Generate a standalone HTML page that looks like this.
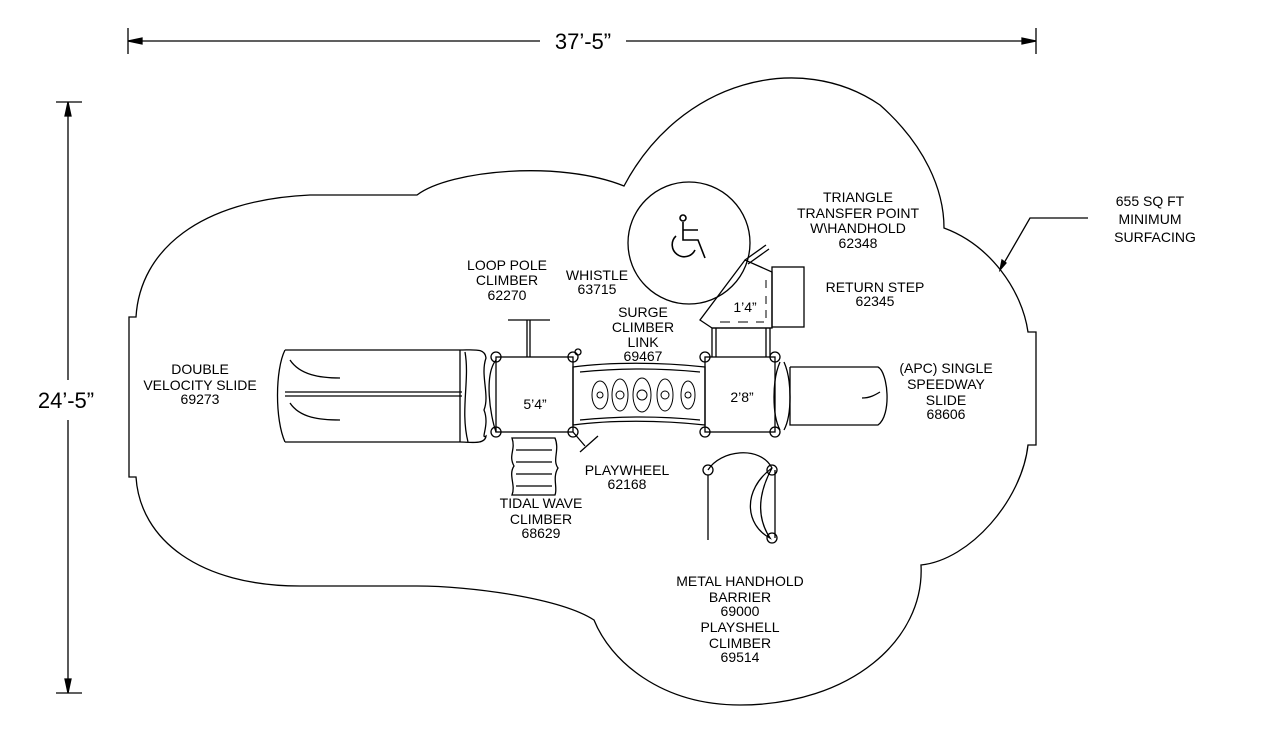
<!DOCTYPE html>
<html><head><meta charset="utf-8"><style>
html,body{margin:0;padding:0;background:#fff;}
svg{display:block}
text{font-family:"Liberation Sans",sans-serif;font-size:14px;fill:#000;text-anchor:middle}
</style></head><body>
<svg width="1266" height="747" viewBox="0 0 1266 747" xmlns="http://www.w3.org/2000/svg" fill="none" stroke="#000" stroke-width="1.3">
<!-- dimension top -->
<line x1="128" y1="28" x2="128" y2="54"/><line x1="1036" y1="28" x2="1036" y2="54"/>
<line x1="128" y1="41" x2="540" y2="41"/><line x1="626" y1="41" x2="1036" y2="41"/>
<path d="M128 41 l14 -3 v6 z M1036 41 l-14 -3 v6 z" fill="#000"/>
<text x="583" y="49" style="font-size:22px" stroke="none">37’-5”</text>
<!-- dimension left -->
<line x1="56" y1="102" x2="82" y2="102"/><line x1="56" y1="693" x2="82" y2="693"/>
<line x1="68" y1="102" x2="68" y2="380"/><line x1="68" y1="420" x2="68" y2="693"/>
<path d="M68 102 l-3 14 h6 z M68 693 l-3 -14 h6 z" fill="#000"/>
<text x="66" y="408" style="font-size:22px" stroke="none">24’-5”</text>
<!-- cloud outline -->
<path d="M129 317 H136 C140 250 200 200 310 195 H417 C450 170 560 160 624 186 C680 80 800 50 880 105 C925 145 944 190 944 228 C990 245 1022 290 1028 332 H1036 V445 H1028 C1022 500 970 560 921 565 C925 640 850 705 740 705 C660 705 610 660 594 620 C560 598 470 586 417 586 H300 C200 586 140 540 136 477 H129 Z"/>
<!-- leader -->
<path d="M1088 218 H1030 L1000 270"/>
<path d="M1000 270 l2 -10 l4 3 z" fill="#000"/>
<!-- double slide -->
<path d="M285 350 H460 M285 442 H460 M285 350 C275 370 275 420 285 442"/>
<path d="M460 350 C475 350 485 348 486 358 C480 375 490 395 484 410 C490 425 480 440 486 436 C485 445 470 442 460 442"/>
<line x1="285" y1="396" x2="462" y2="396"/><line x1="285" y1="392" x2="462" y2="392"/>
<path d="M290 360 C300 375 320 378 340 378 M290 403 C300 418 320 420 340 420"/>
<path d="M460 350 V442 M465 352 C470 380 460 410 468 442"/>
<!-- deck 1 -->
<rect x="496" y="357" width="77" height="75"/>
<path d="M496 360 C484 375 490 415 496 432"/>
<circle cx="496" cy="357" r="5"/><circle cx="573" cy="357" r="5"/><circle cx="496" cy="432" r="5"/><circle cx="573" cy="432" r="5"/>
<circle cx="578" cy="352" r="3"/>
<text x="535" y="409" stroke="none">5’4”</text>
<!-- loop pole -->
<path d="M508 320 H550 M527 320 V357 M530 320 V357"/>
<!-- surge climber link -->
<path d="M573 367 C610 362 660 362 705 367 V425 C660 420 610 420 573 425 Z"/>
<path d="M580 372 C620 368 660 368 700 372 M580 420 C620 416 660 416 700 420"/>
<g stroke-width="1">
<ellipse cx="600" cy="395" rx="8" ry="14"/><ellipse cx="620" cy="395" rx="8" ry="16"/><ellipse cx="642" cy="395" rx="9" ry="17"/><ellipse cx="665" cy="395" rx="8" ry="16"/><ellipse cx="688" cy="395" rx="7" ry="14"/>
<circle cx="600" cy="395" r="3"/><circle cx="620" cy="395" r="4"/><circle cx="642" cy="395" r="5"/><circle cx="665" cy="395" r="4"/><circle cx="688" cy="395" r="3"/>
</g>
<!-- deck 2 -->
<rect x="705" y="357" width="70" height="75"/>
<circle cx="705" cy="357" r="5"/><circle cx="775" cy="357" r="5"/><circle cx="705" cy="432" r="5"/><circle cx="775" cy="432" r="5"/>
<text x="742" y="402" stroke="none">2’8”</text>
<!-- transfer point -->
<path d="M712 357 V328 H770 V357 M716 357 V328 M766 357 V328"/>
<path d="M712 328 L700 320 L745 260 L772 272 V328 Z"/>
<path d="M745 260 L766 245 M748 264 L769 249"/>
<path d="M720 322 H730 M738 322 H748 M756 322 H764 M766 280 V288 M766 296 V304 M766 310 V318" stroke-width="1"/>
<rect x="772" y="267" width="32" height="60"/>
<text x="745" y="312" stroke="none">1’4”</text>
<!-- accessible circle -->
<circle cx="689" cy="243" r="61"/>
<g stroke-width="1.6"><circle cx="683" cy="218" r="3"/><path d="M683 222 V240 H698 L705 258 M683 230 H698 M676 236 A12 12 0 1 0 695 250"/></g>
<!-- speedway slide -->
<path d="M790 367 H878 C888 372 892 415 878 425 H790 V367"/>
<path d="M862 398 C870 398 875 395 880 392"/>
<path d="M780 362 C772 380 772 415 780 430 M784 362 C792 380 792 415 784 430"/>
<!-- tidal wave climber -->
<path d="M512 438 H555 C560 450 552 460 558 468 C552 478 558 488 555 495 H512 C516 485 508 475 514 466 C508 455 516 450 512 438 Z"/>
<path d="M516 450 H552 M516 462 H552 M516 474 H552 M516 486 H552"/>
<!-- playwheel -->
<path d="M573 432 L585 446 M580 452 L598 436"/>
<!-- playshell / handhold -->
<path d="M708 470 C720 450 760 445 772 468 C760 490 755 515 770 538 C745 525 742 490 772 468"/>
<circle cx="708" cy="470" r="5"/><circle cx="772" cy="470" r="5"/><circle cx="772" cy="538" r="5"/>
<path d="M708 475 V540 M775 470 V538"/>
<g stroke="none">
<text x="507" y="270">LOOP POLE</text><text x="507" y="285">CLIMBER</text><text x="507" y="300">62270</text>
<text x="597" y="280">WHISTLE</text><text x="597" y="294">63715</text>
<text x="643" y="317">SURGE</text><text x="643" y="332">CLIMBER</text><text x="643" y="347">LINK</text><text x="643" y="361">69467</text>
<text x="858" y="202">TRIANGLE</text><text x="858" y="218">TRANSFER POINT</text><text x="858" y="233">W\HANDHOLD</text><text x="858" y="248">62348</text>
<text x="875" y="292">RETURN STEP</text><text x="875" y="306">62345</text>
<text x="1150" y="206">655 SQ FT</text><text x="1150" y="224">MINIMUM</text><text x="1155" y="242">SURFACING</text>
<text x="200" y="374">DOUBLE</text><text x="200" y="390">VELOCITY SLIDE</text><text x="200" y="404">69273</text>
<text x="946" y="373">(APC) SINGLE</text><text x="946" y="389">SPEEDWAY</text><text x="946" y="405">SLIDE</text><text x="946" y="419">68606</text>
<text x="627" y="475">PLAYWHEEL</text><text x="627" y="489">62168</text>
<text x="541" y="508">TIDAL WAVE</text><text x="541" y="524">CLIMBER</text><text x="541" y="538">68629</text>
<text x="740" y="586">METAL HANDHOLD</text><text x="740" y="602">BARRIER</text><text x="740" y="616">69000</text><text x="740" y="632">PLAYSHELL</text><text x="740" y="648">CLIMBER</text><text x="740" y="662">69514</text>
</g>
</svg>
</body></html>
